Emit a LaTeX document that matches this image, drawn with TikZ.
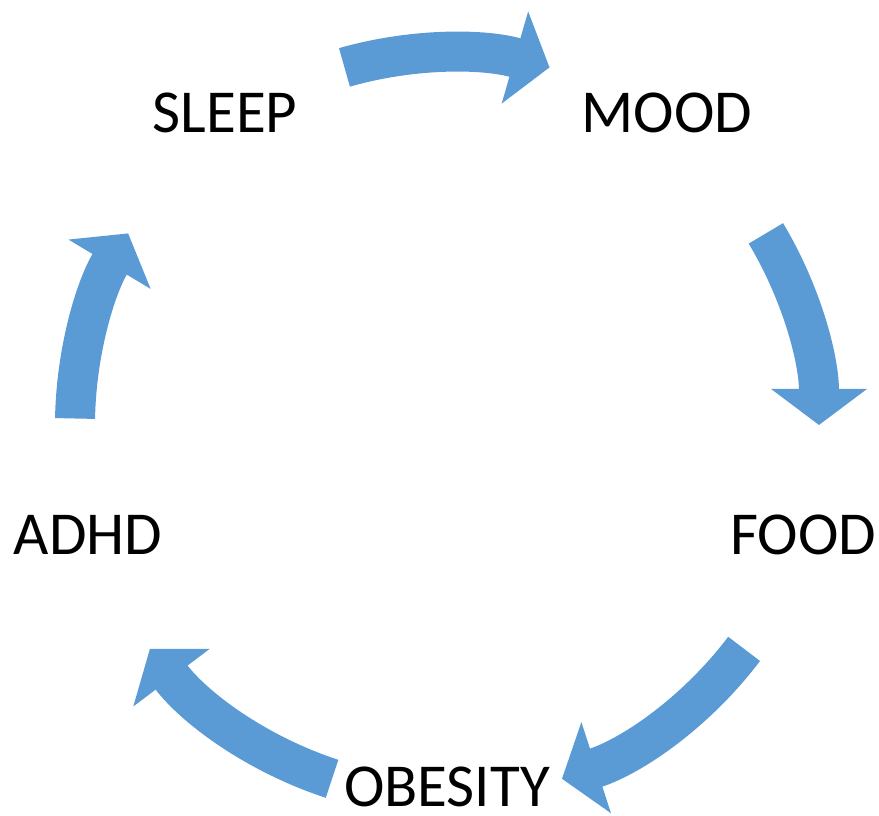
\documentclass[tikz,border=0pt]{standalone}
\usepackage{fontspec}
\setmainfont{Carlito}
\usepackage{tikz}
\usetikzlibrary{arrows.meta}
\usetikzlibrary{positioning}
\definecolor{cycleblue}{HTML}{5B9BD5}
\tikzset{every picture/.style={x=1pt,y=1pt},
  label/.style={font=\fontsize{61}{70}\selectfont,inner sep=0pt},
  flow/.style={draw=cycleblue,line width=40pt,-{Triangle[width=94pt,length=36pt]}}}

\begin{document}
\begin{tikzpicture}
\useasboundingbox (0,0) rectangle (879,816);
\coordinate (c) at (447,391);
\node[label] (sleep) at (225,703) {SLEEP};
\node[label] (mood) at (667,703) {MOOD};
\node[label] (food) at (803,281) {FOOD};
\node[label] (obesity) at (447,29) {OBESITY};
\node[label] (adhd) at (88,281) {ADHD};
\draw[flow] ([shift={(106:372)}]c) arc[start angle=106,end angle=74,radius=372];
\draw[flow] ([shift={(31:372)}]c) arc[start angle=31,end angle=0,radius=372];
\draw[flow] ([shift={(-37:372)}]c) arc[start angle=-37,end angle=-72,radius=372];
\draw[flow] ([shift={(-108:372)}]c) arc[start angle=-108,end angle=-143,radius=372];
\draw[flow] ([shift={(179:372)}]c) arc[start angle=179,end angle=149,radius=372];
\end{tikzpicture}
\end{document}
